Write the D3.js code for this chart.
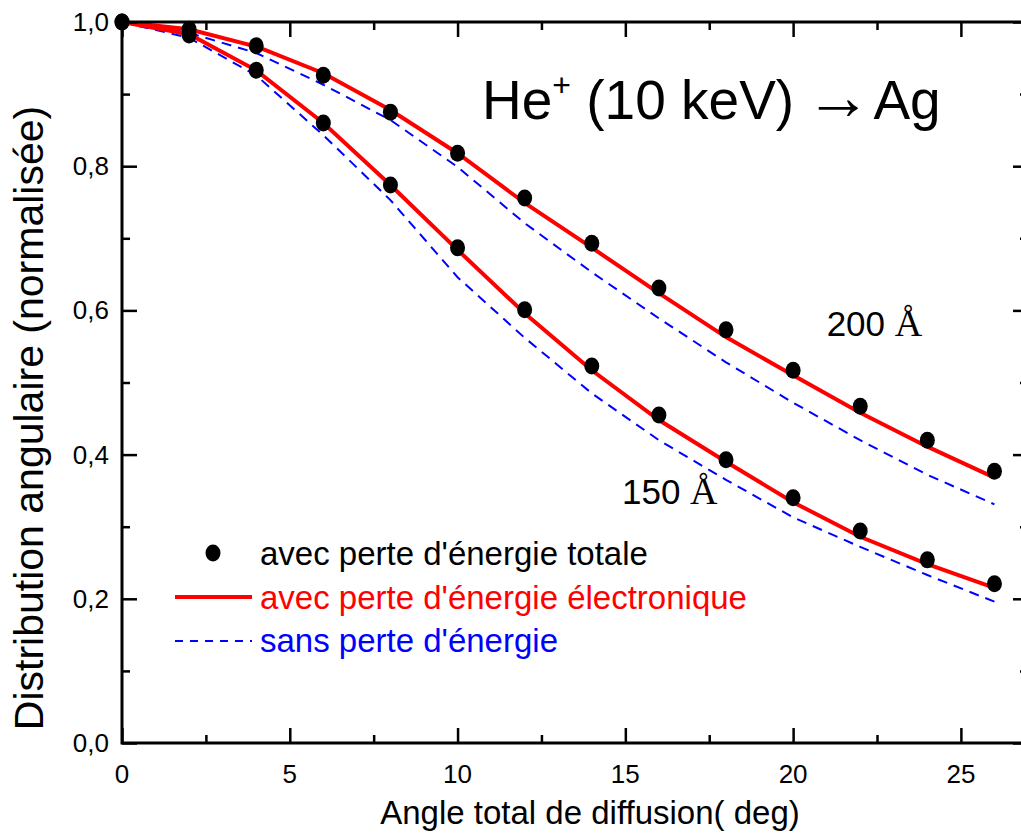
<!DOCTYPE html>
<html><head><meta charset="utf-8">
<script src="https://cdn.jsdelivr.net/npm/d3@7"></script>
<style>body{margin:0;background:#fff}svg{display:block}</style>
</head><body>
<svg id="c" width="1021" height="839"></svg>
<script>
const angles = [0, 2, 4, 6, 8, 10, 12, 14, 16, 18, 20, 22, 24, 26];
const dots200 = [1.0, 0.990, 0.967, 0.926, 0.875, 0.818, 0.756, 0.693, 0.631, 0.573, 0.517, 0.467, 0.420, 0.377];
const dots150 = [1.0, 0.982, 0.933, 0.860, 0.774, 0.687, 0.601, 0.523, 0.455, 0.393, 0.340, 0.294, 0.254, 0.221];
const elec200 = [1.0, 0.990, 0.966, 0.929, 0.878, 0.818, 0.749, 0.687, 0.624, 0.563, 0.510, 0.458, 0.411, 0.368];
const elec150 = [1.0, 0.983, 0.933, 0.860, 0.774, 0.684, 0.596, 0.517, 0.448, 0.390, 0.334, 0.286, 0.248, 0.215];
const none200 = [1.0, 0.985, 0.957, 0.913, 0.864, 0.799, 0.721, 0.653, 0.589, 0.528, 0.472, 0.420, 0.372, 0.331];
const none150 = [1.0, 0.978, 0.926, 0.843, 0.753, 0.646, 0.562, 0.485, 0.420, 0.365, 0.313, 0.272, 0.233, 0.196];
const xMajor = [0, 5, 10, 15, 20, 25];
const xMinor = [2.5, 7.5, 12.5, 17.5, 22.5];
const yMajor = [0, 0.2, 0.4, 0.6, 0.8, 1.0];
const yMinor = [0.1, 0.3, 0.5, 0.7, 0.9];
const legendLabels = ["avec perte d'énergie totale", "avec perte d'énergie électronique", "sans perte d'énergie"];
const thicknessLabels = [{t: "200", x: 21.0, y: 0.565}, {t: "150", x: 14.9, y: 0.332}];

const svg = d3.select("#c");
const L = 122, R = 1028, T = 22, B = 743;
const x = d3.scaleLinear().domain([0, 27]).range([L, R]);
const y = d3.scaleLinear().domain([0, 1]).range([B, T]);
const sans = "'Liberation Sans', Arial, sans-serif";

// lines
const line = d3.line().x((d, i) => x(angles[i])).y(d => y(d));
const g = svg.append("g");
[none200, none150].forEach(s => g.append("path").attr("d", line(s)).attr("fill", "none")
  .attr("stroke", "#0000ff").attr("stroke-width", 2).attr("stroke-dasharray", "10,7"));
[elec200, elec150].forEach(s => g.append("path").attr("d", line(s)).attr("fill", "none")
  .attr("stroke", "#ff0000").attr("stroke-width", 4));
[dots200, dots150].forEach(s => g.selectAll(null).data(s).enter().append("ellipse")
  .attr("cx", (d, i) => x(angles[i])).attr("cy", d => y(d)).attr("rx", 7.5).attr("ry", 8.5).attr("fill", "#000"));

// axes
const axG = svg.append("g").attr("font-family", sans).attr("font-size", 26);
function tk(sel){ sel.select(".domain").remove(); sel.selectAll("line").attr("stroke","#000").attr("stroke-width",2.5); }
axG.append("g").attr("transform", `translate(0,${B})`)
  .call(d3.axisTop(x).tickValues(xMajor).tickSize(15).tickFormat("")).call(tk);
axG.append("g").attr("transform", `translate(0,${B})`)
  .call(d3.axisTop(x).tickValues(xMinor).tickSize(8).tickFormat("")).call(tk);
axG.append("g").attr("transform", `translate(0,${T})`)
  .call(d3.axisBottom(x).tickValues(xMajor).tickSize(15).tickFormat("")).call(tk);
axG.append("g").attr("transform", `translate(0,${T})`)
  .call(d3.axisBottom(x).tickValues(xMinor).tickSize(8).tickFormat("")).call(tk);
axG.append("g").attr("transform", `translate(${L},0)`)
  .call(d3.axisRight(y).tickValues(yMajor).tickSize(15).tickFormat("")).call(tk);
axG.append("g").attr("transform", `translate(${L},0)`)
  .call(d3.axisRight(y).tickValues(yMinor).tickSize(8).tickFormat("")).call(tk);
axG.append("g").attr("transform", `translate(${R},0)`)
  .call(d3.axisLeft(y).tickValues(yMajor).tickSize(15).tickFormat("")).call(tk);
axG.append("g").attr("transform", `translate(${R},0)`)
  .call(d3.axisLeft(y).tickValues(yMinor).tickSize(8).tickFormat("")).call(tk);
svg.append("rect").attr("x", L).attr("y", T).attr("width", R - L).attr("height", B - T)
  .attr("fill", "none").attr("stroke", "#000").attr("stroke-width", 3);

// tick labels
svg.append("g").selectAll("text").data(xMajor).enter().append("text")
  .attr("x", d => x(d)).attr("y", 783).attr("text-anchor", "middle")
  .attr("font-family", sans).attr("font-size", 26).text(d => d);
svg.append("g").selectAll("text").data(yMajor).enter().append("text")
  .attr("x", 109).attr("y", d => y(d) + 9).attr("text-anchor", "end")
  .attr("font-family", sans).attr("font-size", 26).text(d => d3.format(".1f")(d).replace(".", ","));

// axis titles
svg.append("text").attr("x", 590).attr("y", 824).attr("text-anchor", "middle")
  .attr("font-family", sans).attr("font-size", 33).text("Angle total de diffusion( deg)");
svg.append("text").attr("transform", "translate(43,418) rotate(-90)").attr("text-anchor", "middle")
  .attr("font-family", sans).attr("font-size", 41).text("Distribution angulaire (normalisée)");

// title
const tt = svg.append("text").attr("x", 482).attr("y", 119).attr("font-family", sans).attr("font-size", 55);
tt.append("tspan").text("He");
tt.append("tspan").attr("font-size", 32).attr("dy", -23).text("+");
tt.append("tspan").attr("dy", 23).text(" (10 keV) ");
tt.append("tspan").attr("font-size", 66).attr("dx", -4).text("→");
tt.append("tspan").attr("dx", 2).text("Ag");

// thickness labels
thicknessLabels.forEach(l => {
  const t = svg.append("text").attr("x", x(l.x)).attr("y", y(l.y)).attr("font-size", 35).attr("font-family", sans);
  t.append("tspan").text(l.t + " ");
  t.append("tspan").attr("font-family", "'Liberation Serif', 'Times New Roman', serif").attr("font-size", 38).text("Å");
});

// legend
const lg = svg.append("g").attr("font-family", sans).attr("font-size", 33);
lg.append("ellipse").attr("cx", 213).attr("cy", 553).attr("rx", 7.5).attr("ry", 8.5).attr("fill", "#000");
lg.append("line").attr("x1", 175).attr("x2", 252).attr("y1", 597).attr("y2", 597).attr("stroke", "#ff0000").attr("stroke-width", 4);
lg.append("line").attr("x1", 175).attr("x2", 252).attr("y1", 641).attr("y2", 641).attr("stroke", "#0000ff").attr("stroke-width", 2).attr("stroke-dasharray", "8,7");
const lcol = ["#000", "#ff0000", "#0000ff"];
const lys = [565, 609, 652];
legendLabels.forEach((t, i) => lg.append("text").attr("x", 260).attr("y", lys[i]).attr("fill", lcol[i]).text(t));
</script>
</body></html>
